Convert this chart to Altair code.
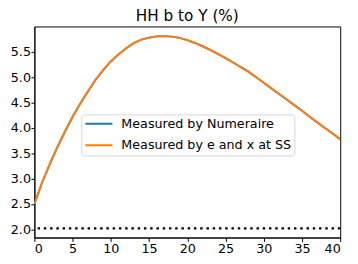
import altair as alt
import pandas as pd

# Period (x) and household b to Y ratio (%) for the two measures
periods = list(range(41))
b_to_y_numeraire = [2.50, 2.92, 3.28, 3.62, 3.93, 4.22, 4.48, 4.72, 4.95, 5.14,
                    5.31, 5.45, 5.57, 5.67, 5.74, 5.78, 5.805, 5.81, 5.80, 5.775,
                    5.73, 5.675, 5.61, 5.54, 5.46, 5.375, 5.29, 5.20, 5.11, 5.00,
                    4.89, 4.78, 4.67, 4.56, 4.45, 4.34, 4.22, 4.11, 4.00, 3.89, 3.78]
b_to_y_ss = [2.50, 2.92, 3.28, 3.62, 3.93, 4.22, 4.48, 4.72, 4.95, 5.14,
             5.31, 5.45, 5.57, 5.67, 5.74, 5.78, 5.805, 5.81, 5.80, 5.775,
             5.73, 5.675, 5.61, 5.54, 5.46, 5.375, 5.29, 5.20, 5.11, 5.00,
             4.89, 4.78, 4.67, 4.56, 4.45, 4.34, 4.22, 4.11, 4.00, 3.89, 3.78]
series_names = ["Measured by Numeraire", "Measured by e and x at SS"]
series_colors = ["#1f77b4", "#ff7f0e"]
steady_state = 2.02
x_ticks = [0, 5, 10, 15, 20, 25, 30, 35, 40]
y_ticks = [2.0, 2.5, 3.0, 3.5, 4.0, 4.5, 5.0, 5.5]

df = pd.concat([
    pd.DataFrame({"t": periods, "v": b_to_y_numeraire, "series": series_names[0], "order": 0}),
    pd.DataFrame({"t": periods, "v": b_to_y_ss, "series": series_names[1], "order": 1}),
])

FONT = "DejaVu Sans"

x_enc = alt.X("t:Q", scale=alt.Scale(domain=[0, 40], nice=False, zero=False),
              axis=alt.Axis(values=x_ticks, title=None, format="d",
                            tickSize=4, labelPadding=1.5, labelOverlap=False))
y_scale = alt.Scale(domain=[1.84, 6.0], nice=False, zero=False)
y_axis = alt.Axis(values=y_ticks, title=None, format=".1f",
                  tickSize=3.5, labelPadding=0.5, labelOverlap=False)

lines = alt.Chart(df).mark_line(strokeWidth=2, clip=True).encode(
    x=x_enc,
    y=alt.Y("v:Q", scale=y_scale, axis=y_axis),
    color=alt.Color("series:N",
                    scale=alt.Scale(domain=series_names, range=series_colors),
                    legend=alt.Legend(
                        title=None, orient="none", legendX=48, legendY=90,
                        fillColor="white", strokeColor="#d6d6d6", cornerRadius=3,
                        padding=3, symbolType="stroke", symbolSize=767,
                        symbolStrokeWidth=2, labelFont=FONT, labelFontSize=13,
                        labelColor="black", rowPadding=8, labelOffset=8,
                        clipHeight=13, labelLimit=300)),
    order=alt.Order("order:Q"),
)

ss_rule = alt.Chart(pd.DataFrame({"v": [steady_state]})).mark_rule(
    color="black", strokeWidth=2.5, strokeDash=[2.5, 3.9]
).encode(y=alt.Y("v:Q", scale=y_scale, axis=y_axis))

chart = alt.layer(lines, ss_rule).properties(
    width=313, height=216,
    title=alt.TitleParams("HH b to Y (%)", font=FONT, fontSize=15.6,
                          fontWeight="normal", color="black", anchor="middle",
                          baseline="alphabetic", offset=4, dy=14),
    autosize=alt.AutoSizeParams(type="none"),
    padding={"left": 27, "top": 16, "right": 10, "bottom": 16},
).configure_view(
    stroke="black", strokeWidth=1
).configure_axis(
    grid=False, labelFont=FONT, labelFontSize=13, labelColor="black",
    tickColor="black", domainColor="black", domainWidth=1,
)

chart.save("out.html", embed_options={"renderer": "svg", "actions": False})
